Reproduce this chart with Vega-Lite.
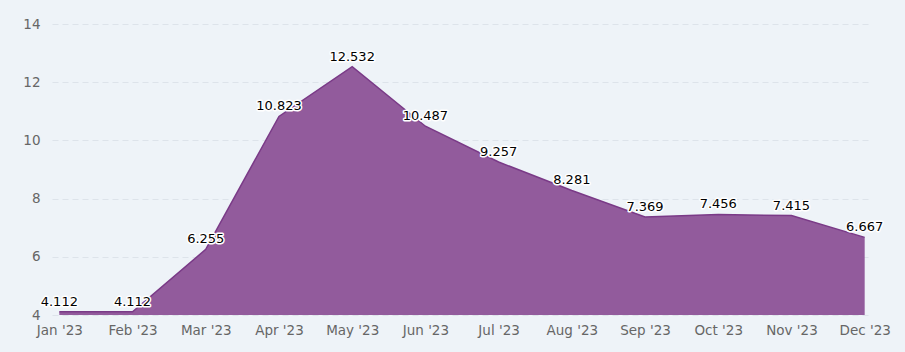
{
  "$schema": "https://vega.github.io/schema/vega-lite/v6.json",
  "width": 820,
  "height": 291,
  "autosize": {"type": "none"},
  "padding": {"left": 52, "top": 24, "right": 33, "bottom": 37},
  "background": "#eef3f8",
  "config": {"view": {"stroke": null}, "font": "DejaVu Sans"},
  "data": {"values": [
    {"month": "Jan '23", "value": 4.112},
    {"month": "Feb '23", "value": 4.112},
    {"month": "Mar '23", "value": 6.255},
    {"month": "Apr '23", "value": 10.823},
    {"month": "May '23", "value": 12.532},
    {"month": "Jun '23", "value": 10.487},
    {"month": "Jul '23", "value": 9.257},
    {"month": "Aug '23", "value": 8.281},
    {"month": "Sep '23", "value": 7.369},
    {"month": "Oct '23", "value": 7.456},
    {"month": "Nov '23", "value": 7.415},
    {"month": "Dec '23", "value": 6.667}
  ]},
  "encoding": {
    "x": {"field": "month", "type": "ordinal", "sort": null,
      "scale": {"type": "point", "padding": 0.1},
      "axis": {"title": null, "labelAngle": 0, "domain": false, "ticks": false, "labelFontSize": 13.5, "labelColor": "#666666", "labelPadding": 8, "labelOverlap": false}},
    "y": {"field": "value", "type": "quantitative",
      "scale": {"domain": [4, 14], "nice": false, "zero": false},
      "axis": {"title": null, "values": [4, 6, 8, 10, 12, 14], "domain": false, "ticks": false, "labelFontSize": 13.5, "labelColor": "#666666", "labelPadding": 12, "gridColor": "#dde3ea", "gridDash": [6, 4], "gridWidth": 1}}
  },
  "layer": [
    {"mark": {"type": "area", "color": "#925b9c", "opacity": 1, "line": {"color": "#7a3a87", "strokeWidth": 1.5}},
      "encoding": {"y2": {"datum": 4}}},
    {"mark": {"type": "text", "dy": -10, "fontSize": 13, "stroke": "white", "strokeWidth": 3, "strokeJoin": "round", "fill": "white"},
      "encoding": {"text": {"field": "value", "type": "quantitative", "format": ".3f"}}},
    {"mark": {"type": "text", "dy": -10, "fontSize": 13, "fill": "#000000"},
      "encoding": {"text": {"field": "value", "type": "quantitative", "format": ".3f"}}}
  ]
}
